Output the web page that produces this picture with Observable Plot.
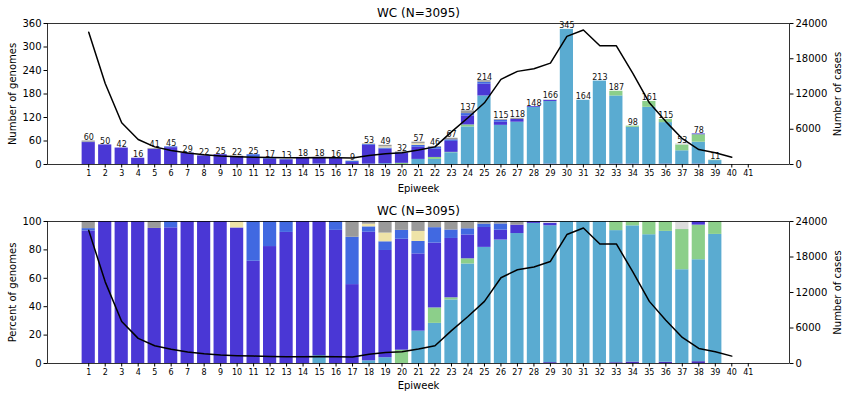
<!DOCTYPE html>
<html>
<head>
<meta charset="utf-8">
<script src="https://cdn.jsdelivr.net/npm/d3@7"></script>
<script src="https://cdn.jsdelivr.net/npm/@observablehq/plot@0.6"></script>
<style>
  html, body { margin: 0; padding: 0; background: #fff; }
  #chart svg { display: block; }
</style>
</head>
<body>
<div id="chart"></div>
<script>
// ---------------- data ----------------
const title = "WC (N=3095)";
const weeks = d3.range(1, 40); // epiweeks 1..39 with genomes
const genomeTotals = [60, 50, 42, 16, 41, 45, 29, 22, 25, 22, 25, 17, 13, 18, 18, 16, 9, 53, 49, 32,
  57, 46, 67, 137, 214, 115, 118, 148, 166, 345, 164, 213, 187, 98, 161, 115, 53, 78, 11];

const lineages = ["Other VOC", "Delta", "C.1.2", "Beta", "Other B.1.1", "Alpha", "Other", "Unassigned"];
const lineageColors = ["#4b2fb8", "#5aabd1", "#8ccf8a", "#4a37d5", "#4169e1", "#eee3a8", "#9a9a9a", "#dcdcdc"];

// genome counts per lineage, weeks 1..39
const otherVoc   = [0,0,0,0,0,0,0,0,0,0,0,0,0,0,0,0,0,0,0,0,0,0,0,0,0,0,0,0,1,0,0,0,1,1,0,1,0,1,0];
const delta      = [0,0,0,0,0,0,0,0,0,0,0,0,0,0,1,0,0,1,2,0,13,13,30,96,175,100,108,146,160,345,164,213,174,94,146,106,35,56,10];
const c12        = [0,0,0,0,0,0,0,0,0,0,0,0,0,0,0,0,0,0,0,3,0,5,1,5,0,0,0,0,0,0,0,0,12,3,15,8,15,19,1];
const beta       = [56,50,42,16,39,43,29,22,25,21,18,14,12,18,17,15,5,48,37,25,31,21,28,23,30,8,7,2,3,0,0,0,0,0,0,0,0,2,0];
const otherB11   = [1,0,0,0,0,2,0,0,0,0,7,3,1,0,0,1,3,2,3,2,5,5,4,6,5,5,0,0,0,0,0,0,0,0,0,0,0,0,0];
const alpha      = [0,0,0,0,0,0,0,0,0,1,0,0,0,0,0,0,0,1,3,0,4,0,0,0,0,0,0,0,0,0,0,0,0,0,0,0,0,0,0];
const other      = [3,0,0,0,2,0,0,0,0,0,0,0,0,0,0,0,1,1,4,2,4,2,4,7,4,2,3,0,0,0,0,0,0,0,0,0,0,0,0];
const unassigned = [0,0,0,0,0,0,0,0,0,0,0,0,0,0,0,0,0,0,0,0,0,0,0,0,0,0,0,0,2,0,0,0,0,0,0,0,3,0,0];

// weekly cases (right axis)
const caseWeeks = d3.range(1, 41);
const cases = [22500, 13800, 7100, 4250, 3000, 2400, 1950, 1650, 1450, 1330, 1250, 1200, 1150, 1130,
  1180, 1130, 1100, 1550, 1850, 2000, 2450, 3000, 5550, 7950, 10500, 14500, 15850, 16300, 17250,
  21800, 22900, 20200, 20200, 15500, 10500, 7300, 4400, 2550, 2000, 1250];

const epiweekTicks = d3.range(1, 42);
const genomeTicks = [0, 60, 120, 180, 240, 300, 360];
const percentTicks = [0, 20, 40, 60, 80, 100];
const caseTicks = [0, 6000, 12000, 18000, 24000];
const caseMax = 24000;

// ---------------- build ----------------
const series = [otherVoc, delta, c12, beta, otherB11, alpha, other, unassigned];

function stackRows(normalize) {
  const rows = [];
  weeks.forEach((w, i) => {
    const total = d3.sum(series, s => s[i]);
    let acc = 0;
    series.forEach((s, k) => {
      const v = normalize ? s[i] / total * 100 : s[i];
      if (s[i] > 0) rows.push({week: w, lineage: lineages[k], y1: acc, y2: acc + v});
      acc += v;
    });
  });
  return rows;
}

const font = "DejaVu Sans, Liberation Sans, sans-serif";

function panel({height, marginTop, yMax, yTicks, yLabel, rows, showTotals, axisGap}) {
  const k = yMax / caseMax;
  const marks = [
    Plot.rect(rows, {
      x1: d => d.week - 0.4, x2: d => d.week + 0.4,
      y1: "y1", y2: "y2", fill: "lineage"
    })
  ];
  if (showTotals) {
    marks.push(Plot.text(genomeTotals, {
      x: (d, i) => weeks[i], y: d => d, text: d => String(d),
      lineAnchor: "bottom", dy: -1, fontSize: 8, fill: "#111"
    }));
  }
  marks.push(
    Plot.line(cases, {x: (d, i) => caseWeeks[i], y: d => d * k, stroke: "black", strokeWidth: 1.5}),
    Plot.frame({stroke: "black", strokeWidth: 0.8}),
    Plot.axisX(epiweekTicks, {tickSize: 3.5, tickPadding: 2, fontSize: 8, label: null, tickFormat: d => String(d)}),
    Plot.axisY(yTicks, {anchor: "left", tickSize: 3.5, tickPadding: 2.5, fontSize: 10, label: null, tickFormat: d => String(d)}),
    Plot.axisY(caseTicks.map(c => c * k), {anchor: "right", tickSize: 3.5, tickPadding: 2.5, fontSize: 10, label: null,
      tickFormat: d => String(Math.round(d / k))}),
    Plot.text([title], {frameAnchor: "top", lineAnchor: "middle", dy: -10, fontSize: 12, fill: "black"}),
    Plot.text(["Epiweek"], {frameAnchor: "bottom", lineAnchor: "middle", dy: axisGap, fontSize: 10, fill: "black"}),
    Plot.text([yLabel], {frameAnchor: "left", textAnchor: "middle", lineAnchor: "middle", dx: -35, rotate: -90, fontSize: 10, fill: "black"}),
    Plot.text(["Number of cases"], {frameAnchor: "right", textAnchor: "middle", lineAnchor: "middle", dx: 48, rotate: -90, fontSize: 10, fill: "black"})
  );
  return Plot.plot({
    width: 850,
    height,
    marginTop,
    marginBottom: 36,
    marginLeft: 47,
    marginRight: 61,
    style: {fontFamily: font, background: "white", color: "black"},
    x: {type: "linear", domain: [-1.5, 43.5]},
    y: {domain: [0, yMax]},
    color: {domain: lineages, range: lineageColors},
    marks
  });
}

const topPanel = panel({height: 200, marginTop: 23, yMax: 360, yTicks: genomeTicks,
  yLabel: "Number of genomes", rows: stackRows(false), showTotals: true, axisGap: 24});
const bottomPanel = panel({height: 199, marginTop: 21, yMax: 100, yTicks: percentTicks,
  yLabel: "Percent of genomes", rows: stackRows(true), showTotals: false, axisGap: 22});

document.getElementById("chart").append(topPanel, bottomPanel);
</script>
</body>
</html>
